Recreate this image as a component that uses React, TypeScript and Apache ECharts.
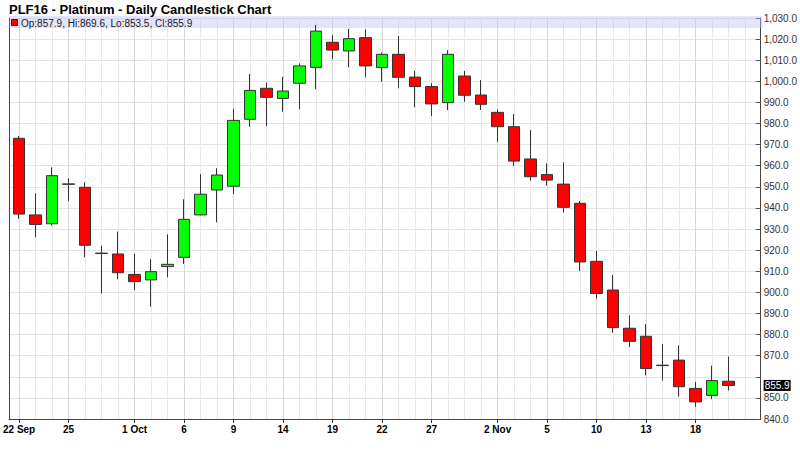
import React, { useEffect, useRef } from 'react';
import * as echarts from 'echarts';

const title = 'PLF16 - Platinum - Daily Candlestick Chart';
const legendText = 'Op:857.9, Hi:869.6, Lo:853.5, Cl:855.9';

const dates = [
  '22 Sep', '23', '24', '25', '28', '29', '30',
  '1 Oct', '2', '5', '6', '7', '8', '9', '12', '13', '14', '15', '16', '19', '20', '21', '22', '23', '26', '27', '28', '29', '30',
  '2 Nov', '3', '4', '5', '6', '9', '10', '11', '12', '13', '16', '17', '18', '19', '20',
];
const labelIndices = [0, 3, 7, 10, 13, 16, 19, 22, 25, 29, 32, 35, 38, 41];
const emptySlots = ['', ' '];

const opens = [
  973.0, 936.7, 932.5, 951.4, 949.8, 918.6, 918.2, 908.5, 905.9, 912.2,
  916.6, 936.7, 948.5, 950.3, 982.0, 996.7, 991.9, 999.1, 1006.6, 1018.5,
  1014.4, 1020.7, 1006.5, 1012.8, 1002.0, 997.5, 989.9, 1002.5, 993.5, 985.3,
  978.5, 963.2, 955.8, 951.3, 942.2, 914.7, 901.1, 883.0, 879.2, 865.5,
  867.9, 854.5, 851.2, 857.9,
];
const closes = [
  937.1, 932.2, 955.3, 951.2, 922.3, 918.4, 909.3, 905.1, 909.8, 913.3,
  934.6, 946.5, 955.6, 981.5, 995.7, 992.4, 995.4, 1007.3, 1023.8, 1014.8,
  1020.2, 1007.3, 1012.8, 1001.9, 997.5, 989.3, 1012.8, 993.4, 989.1, 978.5,
  962.2, 954.8, 953.2, 940.3, 914.4, 899.5, 883.3, 876.8, 863.9, 865.3,
  855.3, 848.1, 858.2, 855.9,
];
const lows = [
  934.9, 926.1, 931.6, 943.4, 916.6, 899.5, 906.2, 901.1, 893.2, 907.1,
  913.4, 936.5, 933.2, 946.6, 978.5, 978.8, 985.6, 986.7, 996.2, 1010.4,
  1006.6, 1001.9, 999.8, 996.7, 987.7, 983.6, 986.4, 990.3, 986.4, 971.3,
  959.9, 952.9, 950.6, 937.8, 910.1, 896.9, 880.9, 874.1, 860.7, 858.2,
  850.6, 845.8, 849.4, 853.5,
];
const highs = [
  974.1, 946.9, 959.2, 954.0, 952.2, 922.0, 928.8, 918.2, 915.7, 927.5,
  944.1, 956.0, 958.8, 987.0, 1003.5, 999.4, 1002.2, 1008.5, 1026.7, 1021.9,
  1024.8, 1024.6, 1013.7, 1021.5, 1005.0, 999.1, 1014.8, 1004.9, 1000.6, 986.7,
  984.5, 976.9, 961.1, 961.6, 943.3, 919.6, 908.2, 889.1, 884.9, 875.5,
  874.9, 857.5, 865.3, 869.6,
];
const yMin = 840;
const yMax = 1030;
const yStep = 10;
const hiddenYLabels = [860];
const lastClose = 855.9;

const FONT = '"Liberation Sans", Arial, Helvetica, sans-serif';

export default function App() {
  const ref = useRef<HTMLDivElement>(null);

  useEffect(() => {
    const chart = echarts.init(ref.current!, null, { renderer: 'svg' });
    const cats = [...dates, ...emptySlots];
    const candleData = opens.map((o, i) => [o, closes[i], lows[i], highs[i]]);
    const fmt = (v: number) =>
      v.toLocaleString('en-US', { minimumFractionDigits: 1, maximumFractionDigits: 1 });
    const isLabeled = (idx: number) => labelIndices.indexOf(idx) >= 0;

    const slot = 16.54;
    const gridLeft = 9;
    const gridTop = 18;
    const gridBottom = 35;
    const frameRight = 37;
    const candleRight = 800 - gridLeft - slot * cats.length;

    chart.setOption({
      animation: false,
      backgroundColor: '#ffffff',
      grid: [
        { left: gridLeft, right: candleRight, top: gridTop, bottom: gridBottom, containLabel: false },
        { left: gridLeft, right: frameRight, top: gridTop, bottom: gridBottom, containLabel: false },
      ],
      xAxis: [
        {
          type: 'category',
          gridIndex: 0,
          data: cats,
          boundaryGap: true,
          axisLine: { show: false },
          axisTick: {
            show: true,
            alignWithLabel: true,
            interval: (idx: number) => isLabeled(idx),
            length: 4,
            lineStyle: { color: '#333', width: 1 },
          },
          axisLabel: {
            show: true,
            interval: (idx: number) => isLabeled(idx),
            fontFamily: FONT,
            fontSize: 10,
            fontWeight: 'bold',
            color: '#000',
            margin: 5,
          },
          splitLine: {
            show: true,
            alignWithLabel: true,
            interval: (idx: number) => idx < cats.length - 1,
            lineStyle: { color: '#e8e8e8', width: 1 },
          },
        },
        {
          type: 'category',
          gridIndex: 0,
          position: 'bottom',
          data: cats,
          boundaryGap: true,
          axisLine: { show: false },
          axisTick: { show: false },
          axisLabel: { show: false },
          splitLine: {
            show: true,
            alignWithLabel: true,
            interval: (idx: number) => isLabeled(idx),
            lineStyle: { color: '#d8d8d8', width: 1 },
          },
        },
        {
          type: 'value',
          gridIndex: 1,
          min: 0,
          max: 1,
          axisLine: { show: true, onZero: false, lineStyle: { color: '#444', width: 1 } },
          axisTick: { show: false },
          axisLabel: { show: false },
          splitLine: { show: false },
        },
      ],
      yAxis: [
        {
          type: 'value',
          gridIndex: 0,
          min: yMin,
          max: yMax,
          show: false,
        },
        {
          type: 'value',
          gridIndex: 1,
          position: 'right',
          min: yMin,
          max: yMax,
          interval: yStep,
          axisLine: { show: true, onZero: false, lineStyle: { color: '#444', width: 1 } },
          axisTick: { show: true, inside: true, length: 5, lineStyle: { color: '#555' } },
          axisLabel: {
            show: true,
            margin: 3,
            fontFamily: FONT,
            fontSize: 10,
            color: '#333',
            formatter: (v: number) => (hiddenYLabels.indexOf(v) >= 0 ? '' : fmt(v)),
          },
          splitLine: { show: true, lineStyle: { color: '#e4e4e4', width: 1 } },
          axisPointer: {
            show: true,
            type: 'line',
            value: lastClose,
            status: 'show',
            snap: false,
            triggerTooltip: false,
            lineStyle: { opacity: 0 },
            handle: { show: false },
            label: {
              show: true,
              formatter: () => lastClose.toFixed(1),
              backgroundColor: '#000',
              color: '#fff',
              padding: [1, 1, 0, 1],
              borderRadius: 0,
              fontFamily: FONT,
              fontSize: 10,
              margin: 3,
              shadowBlur: 0,
            },
          },
        },
        {
          type: 'value',
          gridIndex: 1,
          position: 'left',
          min: yMin,
          max: yMax,
          axisLine: { show: true, onZero: false, lineStyle: { color: '#444', width: 1 } },
          axisTick: { show: false },
          axisLabel: { show: false },
          splitLine: { show: false },
        },
      ],
      series: [
        {
          type: 'candlestick',
          xAxisIndex: 0,
          yAxisIndex: 0,
          data: candleData,
          barWidth: 12,
          itemStyle: {
            color: '#00ff00',
            color0: '#ff0000',
            borderColor: '#333',
            borderColor0: '#333',
            borderColorDoji: '#222',
            borderWidth: 1,
          },
        },
      ],
      graphic: [
        {
          type: 'rect',
          z: 1,
          silent: true,
          shape: { x: 9.5, y: 16, width: 753, height: 12 },
          style: { fill: 'rgba(190,190,245,0.42)' },
        },
        {
          type: 'text',
          z: 3,
          x: 9,
          y: 9,
          style: {
            text: title,
            fontFamily: FONT,
            fontSize: 13,
            fontWeight: 'bold',
            fill: '#000',
            verticalAlign: 'middle',
          },
        },
        {
          type: 'rect',
          z: 3,
          shape: { x: 11.5, y: 19.5, width: 6, height: 6 },
          style: { fill: '#ff0000', stroke: '#222', lineWidth: 1 },
        },
        {
          type: 'text',
          z: 3,
          x: 21,
          y: 23,
          style: {
            text: legendText,
            fontFamily: FONT,
            fontSize: 10,
            fill: '#222',
            verticalAlign: 'middle',
          },
        },
      ],
    });

    return () => chart.dispose();
  }, []);

  return (
    <div
      ref={ref}
      style={{ position: 'absolute', left: 0, top: 0, width: 800, height: 454 }}
    />
  );
}
